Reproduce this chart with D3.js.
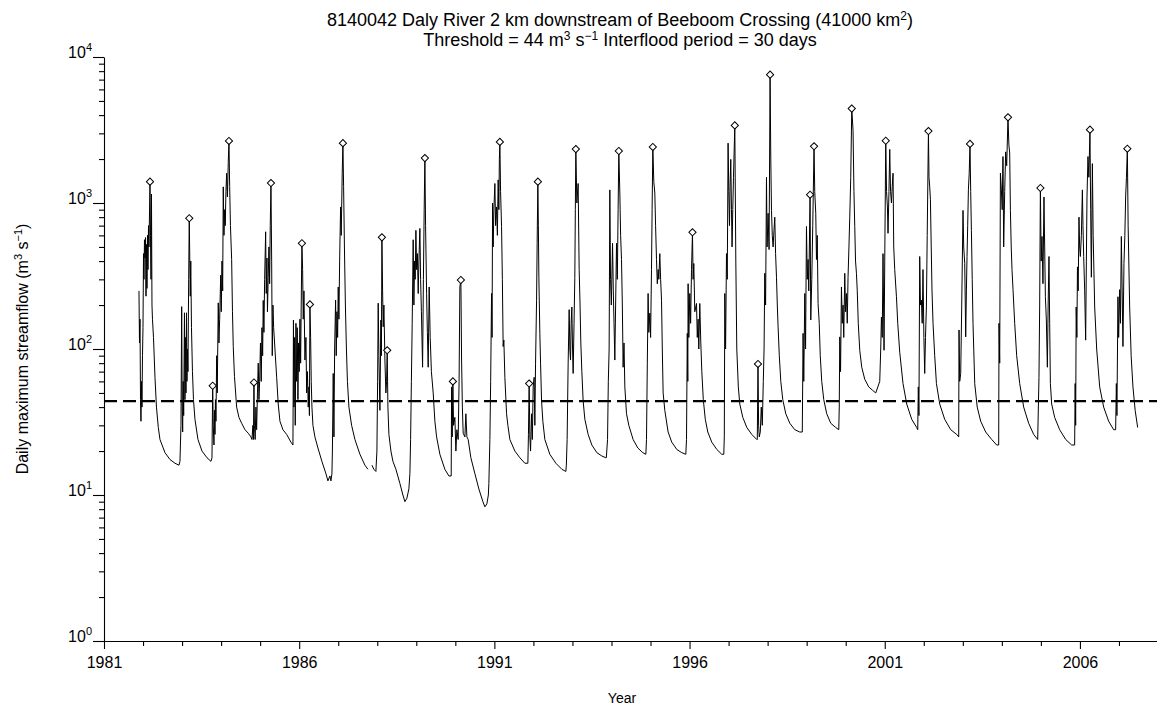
<!DOCTYPE html>
<html>
<head>
<meta charset="utf-8">
<script src="https://cdn.jsdelivr.net/npm/d3@7"></script>
<style>
  body { margin: 0; background: #fff; }
  text { font-family: Arial, "Liberation Sans", sans-serif; fill: #000; }
</style>
</head>
<body>
<svg width="1157" height="709"></svg>
<script>
// tick labels
var majorYears = [1981, 1986, 1991, 1996, 2001, 2006];
var decades = [1, 10, 100, 1000, 10000];
var threshold = 44;

// flood peaks picked out with diamonds (decimal year, m3/s)
var peakDates = [1982.178, 1983.184, 1983.784, 1984.201, 1984.841, 1985.277, 1986.070, 1986.275,
  1987.120, 1988.119, 1988.255, 1989.220, 1989.937, 1990.142, 1991.141, 1991.891, 1992.114,
  1993.087, 1994.188, 1995.059, 1996.075, 1997.159, 1997.753, 1998.063, 1999.087, 1999.189,
  2000.155, 2001.026, 2002.119, 2003.184, 2004.157, 2004.987, 2006.257, 2007.215];
var peakFlows = [1400, 786, 56, 2660, 59, 1370, 530, 202,
  2570, 582, 98, 2030, 60, 297, 2620, 58, 1400,
  2340, 2270, 2420, 630, 3400, 79, 7570, 1140, 2445,
  4430, 2670, 3110, 2540, 3860, 1267, 3180, 2355];

// daily maximum streamflow (decimal year, m3/s)
var flow1982to1987 = [
  [1981.896,250],[1981.909,110],[1981.922,160],[1981.935,45],[1981.947,32],[1981.960,60],[1981.973,40],
  [1981.986,90],[1981.999,140],[1982.012,450],[1982.024,300],[1982.037,560],[1982.050,420],[1982.063,580],
  [1982.076,230],[1982.088,520],[1982.101,260],[1982.114,600],[1982.127,350],[1982.140,700],[1982.152,500],
  [1982.178,1400],[1982.191,600],[1982.204,300],[1982.216,1150],[1982.229,200],[1982.242,160],[1982.268,120],
  [1982.306,64],[1982.344,40],[1982.391,29],[1982.434,24],[1982.562,19.5],[1982.690,17.5],[1982.818,16.5],
  [1982.921,16],
  [1982.946,17],[1982.972,30],[1982.990,195],[1983.003,40],[1983.015,27],[1983.028,60],[1983.041,35],
  [1983.061,177],[1983.074,45],[1983.087,120],[1983.100,50],[1983.113,177],[1983.125,60],[1983.138,100],
  [1983.151,70],[1983.169,300],[1983.184,786],[1983.197,420],[1983.210,230],[1983.223,400],[1983.241,140],
  [1983.266,70],[1983.292,45],[1983.330,33],[1983.407,24],[1983.510,20],[1983.638,18],[1983.740,17],
  [1983.766,18],[1983.784,56],[1983.799,30],[1983.817,22],
  [1983.830,38],[1983.843,26],[1983.855,45],[1983.868,32],[1983.886,90],[1983.901,50],[1983.927,207],
  [1983.945,110],[1983.963,160],[1983.989,320],[1984.004,180],[1984.022,400],[1984.040,250],[1984.055,1290],
  [1984.073,600],[1984.091,900],[1984.106,700],[1984.124,1200],[1984.142,1600],[1984.162,1100],[1984.183,1900],
  [1984.201,2660],[1984.219,1300],[1984.239,700],[1984.270,410],[1984.291,180],[1984.311,104],[1984.342,65],
  [1984.398,40],[1984.457,34],[1984.526,31],[1984.611,28],[1984.695,26.5],[1984.764,25],
  [1984.790,24],[1984.815,30],[1984.828,24],[1984.841,59],[1984.854,30],[1984.872,24],[1984.892,40],
  [1984.910,28],[1984.931,50],[1984.951,80],[1984.969,45],[1984.987,60],[1985.008,110],[1985.028,60],
  [1985.046,140],[1985.064,90],[1985.079,215],[1985.097,130],[1985.115,300],[1985.141,635],[1985.156,240],
  [1985.174,420],[1985.187,180],[1985.207,310],[1985.225,500],[1985.243,280],[1985.259,700],[1985.277,1370],
  [1985.295,400],[1985.310,90],[1985.328,200],[1985.346,140],[1985.379,100],[1985.423,64],[1985.463,42],
  [1985.507,32],[1985.584,28],[1985.679,26],[1985.789,23],
  [1985.840,22],[1985.853,158],[1985.866,40],[1985.884,120],[1985.899,30],[1985.917,150],[1985.935,60],
  [1985.950,140],[1985.968,45],[1985.986,110],[1986.001,70],[1986.019,160],[1986.037,80],[1986.052,200],
  [1986.070,530],[1986.088,350],[1986.104,160],[1986.122,250],[1986.147,84],[1986.173,120],[1986.191,50],
  [1986.211,70],[1986.232,40],[1986.250,55],[1986.262,35],[1986.275,202],[1986.293,120],[1986.309,60],
  [1986.327,40],[1986.352,30],[1986.403,25],[1986.480,21],[1986.582,17],[1986.685,14],[1986.736,12.5],
  [1986.787,13.5],[1986.813,12.5],[1986.839,14],
  [1986.851,20],[1986.872,68],[1986.890,25],[1986.908,100],[1986.933,216],[1986.949,90],[1986.967,180],
  [1986.985,120],[1987.000,266],[1987.018,160],[1987.036,400],[1987.061,940],[1987.077,600],[1987.102,1600],
  [1987.120,2570],[1987.138,1300],[1987.159,500],[1987.184,200],[1987.210,100],[1987.236,60],[1987.274,40],
  [1987.343,30],[1987.428,24],[1987.556,19],[1987.684,16],[1987.761,15]
];

var flow1988to1999 = [
  [1987.863,16],[1987.914,15],[1987.965,14.5],[1987.991,20],[1988.009,60],[1988.024,206],[1988.042,90],
  [1988.068,38],[1988.093,158],[1988.106,90],[1988.119,582],[1988.137,250],[1988.152,142],[1988.170,200],
  [1988.196,84],[1988.221,50],[1988.239,60],[1988.255,98],[1988.273,40],[1988.298,26],[1988.350,20],
  [1988.401,17],[1988.478,15],[1988.580,12],[1988.657,10],[1988.708,9],[1988.759,9.5],[1988.810,11],
  [1988.836,14],[1988.854,24],[1988.874,60],[1988.895,150],[1988.920,560],[1988.938,200],[1988.956,400],
  [1988.972,300],[1988.990,650],[1989.008,350],[1989.028,450],[1989.049,240],[1989.067,400],[1989.092,670],
  [1989.110,300],[1989.131,180],[1989.161,75],[1989.182,300],[1989.202,900],[1989.220,2030],[1989.238,700],
  [1989.264,240],[1989.284,130],[1989.305,75],[1989.330,266],[1989.356,120],[1989.387,70],[1989.433,50],
  [1989.476,32],[1989.520,25],[1989.604,19],[1989.732,15],[1989.835,13.5],[1989.894,13.5],
  [1989.904,55],[1989.920,25],[1989.937,60],[1989.955,30],[1989.988,34],[1990.014,20],[1990.039,28],
  [1990.073,24],[1990.096,60],[1990.116,266],[1990.142,297],[1990.160,84],[1990.180,40],[1990.201,26.5],
  [1990.245,25],[1990.270,36],[1990.296,25],[1990.329,24],[1990.398,18],[1990.501,14],[1990.603,11],
  [1990.706,9],[1990.757,8.3],[1990.808,8.7],[1990.846,10],
  [1990.859,12],[1990.885,24],[1990.905,60],[1990.928,240],[1990.941,120],[1990.954,1000],[1990.969,500],
  [1990.987,900],[1991.013,1360],[1991.031,700],[1991.056,940],[1991.077,600],[1991.097,1440],[1991.115,900],
  [1991.128,1990],[1991.141,2620],[1991.159,1200],[1991.184,690],[1991.205,300],[1991.225,104],[1991.243,115],
  [1991.269,64],[1991.312,36],[1991.346,30],[1991.397,24],[1991.525,20],[1991.653,18],[1991.781,16.5],
  [1991.858,16.5],
  [1991.873,26],[1991.891,58],[1991.909,25],[1991.927,20],[1991.953,36],[1991.973,24],[1991.994,55],
  [1992.019,64],[1992.037,30],[1992.055,80],[1992.081,216],[1992.096,530],[1992.114,1400],[1992.127,700],
  [1992.140,310],[1992.165,128],[1992.183,80],[1992.209,44],[1992.242,32],[1992.293,24],[1992.421,19],
  [1992.575,16.5],[1992.729,15],[1992.831,14.5],
  [1992.844,16],[1992.864,24],[1992.890,80],[1992.916,186],[1992.934,100],[1992.951,84],[1992.967,150],
  [1992.985,194],[1993.003,100],[1993.018,68],[1993.041,150],[1993.061,310],[1993.074,900],[1993.087,2340],
  [1993.113,1000],[1993.146,1360],[1993.172,350],[1993.195,200],[1993.215,110],[1993.241,70],[1993.274,44],
  [1993.318,33],[1993.402,26],[1993.497,22],[1993.625,19.5],[1993.753,18.5],[1993.855,18],
  [1993.868,18],[1993.899,24],[1993.919,60],[1993.940,100],[1993.958,1230],[1993.976,300],[1993.996,200],
  [1994.027,530],[1994.047,250],[1994.065,150],[1994.086,84],[1994.106,200],[1994.129,530],[1994.150,300],
  [1994.170,900],[1994.188,2270],[1994.214,1170],[1994.234,600],[1994.257,410],[1994.278,200],[1994.298,75],
  [1994.321,110],[1994.342,55],[1994.385,36],[1994.444,30],[1994.554,24],[1994.674,21],[1994.802,19.5],
  [1994.880,19],
  [1994.897,24],[1994.918,80],[1994.938,240],[1994.956,130],[1994.982,176],[1995.002,120],[1995.025,350],
  [1995.041,900],[1995.059,2420],[1995.084,1400],[1995.110,1170],[1995.130,700],[1995.153,410],[1995.174,280],
  [1995.195,350],[1995.213,300],[1995.238,450],[1995.259,300],[1995.282,216],[1995.302,100],[1995.323,50],
  [1995.366,38],[1995.451,27],[1995.545,23],[1995.673,20.5],[1995.801,19.5],[1995.904,19],
  [1995.922,24],[1995.942,128],[1995.955,60],[1995.963,280],[1995.981,120],[1996.006,240],[1996.027,150],
  [1996.050,350],[1996.075,630],[1996.091,300],[1996.109,385],[1996.134,180],[1996.178,205],[1996.198,120],
  [1996.219,160],[1996.237,100],[1996.262,205],[1996.288,110],[1996.314,70],[1996.352,45],[1996.403,33],
  [1996.467,27],[1996.570,23],[1996.698,20.5],[1996.826,19],[1996.877,19],
  [1996.890,25],[1996.903,240],[1996.923,100],[1996.946,450],[1996.966,300],[1996.987,2570],[1997.005,1200],
  [1997.023,700],[1997.038,1300],[1997.056,1990],[1997.074,900],[1997.089,500],[1997.107,900],[1997.125,1500],
  [1997.141,2200],[1997.159,3400],[1997.185,400],[1997.210,100],[1997.249,55],[1997.287,42],[1997.364,34],
  [1997.467,29],[1997.594,26],[1997.722,24],
  [1997.735,24],[1997.753,79],[1997.769,30],[1997.786,25],[1997.812,27],[1997.837,40],[1997.863,30],
  [1997.889,60],[1997.909,100],[1997.927,330],[1997.948,200],[1997.971,1500],[1997.986,500],[1998.012,850],
  [1998.037,480],[1998.063,7570],[1998.081,2000],[1998.099,890],[1998.119,600],[1998.140,500],[1998.163,650],
  [1998.183,800],[1998.204,450],[1998.227,310],[1998.248,200],[1998.268,142],[1998.299,90],[1998.337,60],
  [1998.388,45],[1998.465,36],[1998.568,31],[1998.696,28],[1998.824,27],[1998.888,27],
  [1998.908,128],[1998.926,60],[1998.952,240],[1998.972,100],[1998.995,690],[1999.016,300],[1999.036,410],
  [1999.054,250],[1999.087,1140],[1999.105,158],[1999.131,300],[1999.156,700],[1999.189,2445],[1999.207,1200],
  [1999.233,850],[1999.251,410],[1999.271,600],[1999.292,205],[1999.322,150],[1999.348,90],[1999.386,60],
  [1999.438,45],[1999.514,36],[1999.617,31],[1999.745,29],[1999.822,28]
];

var flow2000to2007 = [
  [1999.835,40],[1999.848,121],[1999.868,70],[1999.891,266],[1999.912,150],[1999.932,200],[1999.950,120],
  [1999.976,330],[1999.996,180],[2000.019,240],[2000.040,150],[2000.060,310],[2000.083,500],[2000.104,800],
  [2000.129,1500],[2000.155,4430],[2000.188,3150],[2000.211,1200],[2000.232,690],[2000.252,400],[2000.275,330],
  [2000.296,250],[2000.322,150],[2000.360,98],[2000.411,75],[2000.488,62],[2000.590,55],[2000.693,52],
  [2000.770,50],
  [2000.872,60],[2000.897,100],[2000.915,165],[2000.936,120],[2000.956,450],[2000.982,98],[2001.000,400],
  [2001.026,2670],[2001.046,1200],[2001.069,940],[2001.084,620],[2001.108,1200],[2001.128,2330],[2001.149,1200],
  [2001.172,1000],[2001.192,1300],[2001.213,1600],[2001.230,500],[2001.256,350],[2001.300,228],[2001.333,150],
  [2001.384,95],[2001.468,58],[2001.563,42],[2001.691,33],[2001.819,29],[2001.845,28],
  [2001.860,55],[2001.876,35],[2001.896,430],[2001.916,200],[2001.939,216],[2001.960,150],[2001.980,350],
  [2002.003,120],[2002.024,68],[2002.044,120],[2002.067,194],[2002.088,600],[2002.119,3110],[2002.134,1500],
  [2002.152,1290],[2002.170,1060],[2002.191,500],[2002.211,250],[2002.237,150],[2002.280,90],[2002.324,58],
  [2002.408,42],[2002.536,33],[2002.690,28],[2002.844,26],[2002.895,25],
  [2002.903,135],[2002.920,60],[2002.946,68],[2002.972,200],[2003.005,890],[2003.023,500],[2003.049,385],
  [2003.074,121],[2003.092,250],[2003.108,430],[2003.125,700],[2003.143,1230],[2003.164,1600],[2003.184,2540],
  [2003.202,1200],[2003.220,650],[2003.241,300],[2003.261,150],[2003.305,58],[2003.369,40],[2003.458,32],
  [2003.586,27],[2003.740,24],[2003.868,22],[2003.919,22],
  [2003.927,150],[2003.945,80],[2003.963,1600],[2003.988,1230],[2004.009,900],[2004.029,2080],[2004.047,500],
  [2004.073,1200],[2004.098,2240],[2004.124,1800],[2004.157,3860],[2004.180,2500],[2004.201,2200],[2004.219,890],
  [2004.240,500],[2004.260,350],[2004.286,255],[2004.329,150],[2004.380,90],[2004.457,58],[2004.559,40],
  [2004.687,31],[2004.815,26],[2004.918,24],
  [2004.951,64],[2004.969,200],[2004.987,1267],[2005.007,400],[2005.028,590],[2005.053,280],[2005.079,1100],
  [2005.097,500],[2005.115,228],[2005.140,158],[2005.166,75],[2005.186,200],[2005.207,430],[2005.225,150],
  [2005.243,58],[2005.276,42],[2005.353,34],[2005.481,28],[2005.635,24],[2005.789,22],[2005.865,22],
  [2005.878,58],[2005.891,30],[2005.904,194],[2005.922,120],[2005.937,365],[2005.955,250],[2005.976,800],
  [2005.993,500],[2006.011,430],[2006.037,600],[2006.063,1230],[2006.078,700],[2006.096,430],[2006.122,250],
  [2006.147,115],[2006.165,400],[2006.181,1100],[2006.206,2080],[2006.229,1500],[2006.257,3180],[2006.275,900],
  [2006.293,310],[2006.319,1860],[2006.339,600],[2006.378,194],[2006.429,100],[2006.506,55],[2006.608,40],
  [2006.736,32],[2006.864,28],[2006.915,28],
  [2006.933,58],[2006.948,35],[2006.974,228],[2006.992,120],[2007.018,255],[2007.038,150],[2007.061,590],
  [2007.082,250],[2007.102,104],[2007.128,385],[2007.151,600],[2007.171,1100],[2007.192,1500],[2007.215,2355],
  [2007.235,700],[2007.274,194],[2007.312,90],[2007.358,55],[2007.415,38],[2007.479,29]
];

var svg = d3.select("svg"),
    margin = {top: 57, right: -1, bottom: 68, left: 104},
    width = +svg.attr("width") - margin.left - margin.right,
    height = +svg.attr("height") - margin.top - margin.bottom;

var x = d3.scaleLinear().domain([1981, 2008]).range([0, width]),
    y = d3.scaleLog().domain([1, 10000]).range([height, 0]);

var g = svg.append("g")
    .attr("transform", "translate(" + margin.left + "," + margin.top + ")");

// write text with superscripts; parts alternate normal / superscript
function richText(sel, parts, supSize) {
  parts.forEach(function(p, i) {
    var sup = i % 2 === 1;
    sel.append("tspan")
      .attr("dy", sup ? -6 : (i > 0 ? 6 : 0))
      .attr("font-size", sup ? supSize : null)
      .text(p);
  });
}

// x axis: labelled ticks every 5 years, small ticks every year
var minorYears = d3.range(1982, 2008).filter(function(d) { return majorYears.indexOf(d) < 0; });

g.append("g")
    .attr("class", "axis axis--x")
    .attr("transform", "translate(0," + height + ")")
    .call(d3.axisBottom(x).tickValues(minorYears).tickSize(5).tickFormat(""))
    .call(function(a) { a.select(".domain").remove(); });

g.append("g")
    .attr("class", "axis axis--x")
    .attr("transform", "translate(0," + height + ")")
    .call(d3.axisBottom(x).tickValues(majorYears).tickSize(8).tickSizeOuter(0)
      .tickPadding(8).tickFormat(d3.format("d")))
    .call(function(a) { a.selectAll("text").attr("font-size", "16px").attr("font-family", null); });

// y axis: decades labelled 10^n, minor ticks 2..9
var minorFlows = [];
decades.slice(0, -1).forEach(function(d) {
  for (var k = 2; k <= 9; k++) minorFlows.push(d * k);
});

g.append("g")
    .attr("class", "axis axis--y")
    .call(d3.axisLeft(y).tickValues(minorFlows).tickSize(5).tickFormat(""))
    .call(function(a) { a.select(".domain").remove(); });

var yAxis = g.append("g")
    .attr("class", "axis axis--y")
    .call(d3.axisLeft(y).tickValues(decades).tickSize(11).tickSizeOuter(0).tickFormat(""));

yAxis.selectAll(".tick").append("text")
    .attr("x", -12)
    .attr("y", 0)
    .attr("text-anchor", "end")
    .attr("font-size", "16px")
    .each(function(d) {
      var t = d3.select(this);
      t.append("tspan").text("10");
      t.append("tspan").attr("dy", -7).attr("font-size", "11px").text(Math.round(Math.log10(d)));
    });

g.selectAll(".axis path, .axis line").attr("stroke", "#000").attr("stroke-width", 1.1);

// threshold
g.append("line")
    .attr("x1", 0)
    .attr("x2", width)
    .attr("y1", y(threshold))
    .attr("y2", y(threshold))
    .attr("stroke", "#000")
    .attr("stroke-width", 2.2)
    .attr("stroke-dasharray", "13,6");

// hydrograph (gap in record late 1987)
var line = d3.line()
    .x(function(d) { return x(d[0]); })
    .y(function(d) { return y(d[1]); });

var runs = [flow1982to1987, flow1988to1999.concat(flow2000to2007)];

g.selectAll(".flow")
  .data(runs)
  .enter().append("path")
    .attr("class", "flow")
    .attr("d", line)
    .attr("fill", "none")
    .attr("stroke", "#000")
    .attr("stroke-width", 1)
    .attr("stroke-linejoin", "round");

// flood peaks
var peaks = peakDates.map(function(d, i) { return [d, peakFlows[i]]; });

g.selectAll(".peak")
  .data(peaks)
  .enter().append("path")
    .attr("class", "peak")
    .attr("transform", function(d) { return "translate(" + x(d[0]) + "," + y(d[1]) + ") rotate(45)"; })
    .attr("d", d3.symbol(d3.symbolSquare, 26))
    .attr("fill", "#fff")
    .attr("stroke", "#000")
    .attr("stroke-width", 1);

// titles
var t1 = svg.append("text").attr("x", 620).attr("y", 26)
    .attr("text-anchor", "middle").attr("font-size", "18px");
richText(t1, ["8140042 Daly River 2 km downstream of Beeboom Crossing (41000 km", "2", ")"], "12px");

var t2 = svg.append("text").attr("x", 620).attr("y", 46)
    .attr("text-anchor", "middle").attr("font-size", "18px");
richText(t2, ["Threshold = 44 m", "3", " s", "\u22121", " Interflood period = 30 days"], "12px");

var yl = svg.append("text")
    .attr("transform", "translate(28," + (margin.top + height / 2) + ") rotate(-90)")
    .attr("text-anchor", "middle").attr("font-size", "16px");
richText(yl, ["Daily maximum streamflow (m", "3", " s", "\u22121", ")"], "11px");

svg.append("text")
    .attr("x", 622)
    .attr("y", 703)
    .attr("text-anchor", "middle")
    .attr("font-size", "14px")
    .text("Year");
</script>
</body>
</html>
